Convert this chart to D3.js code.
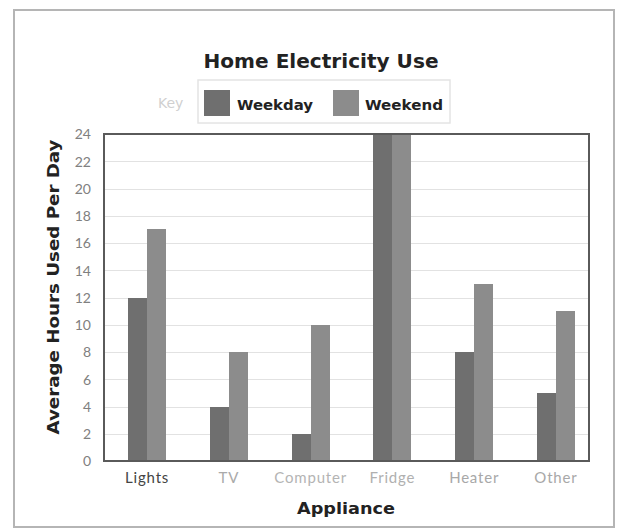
<!DOCTYPE html>
<html>
<head>
<meta charset="utf-8">
<script src="https://cdn.jsdelivr.net/npm/d3@7"></script>
<style>
  html, body { margin: 0; padding: 0; background: #fff; }
  svg { display: block; }
</style>
</head>
<body>
<svg id="chart" width="623" height="529"></svg>
<script>
const categories = ["Lights", "TV", "Computer", "Fridge", "Heater", "Other"];
const seriesNames = ["Weekday", "Weekend"];
const weekday = [12, 4, 2, 24, 8, 5];
const weekend = [17, 8, 10, 24, 13, 11];
const yTicks = [0, 2, 4, 6, 8, 10, 12, 14, 16, 18, 20, 22, 24];
const colors = ["#6f6f6f", "#8c8c8c"];
const labelColors = ["#444", "#aaa", "#b4b4b4", "#b0b0b0", "#a8a8a8", "#a8a8a8"];

const svg = d3.select("#chart");

// outer frame
svg.append("rect").attr("x", 14).attr("y", 10).attr("width", 600).attr("height", 517)
  .attr("fill", "#fff").attr("stroke", "#b5b5b5").attr("stroke-width", 2);

const plot = { left: 104, right: 589, top: 134, bottom: 461 };

const y = d3.scaleLinear().domain([0, 24]).range([plot.bottom, plot.top]);
const x0 = d3.scaleBand().domain(categories).range([106, 597]).paddingInner(0.535).paddingOuter(0.27);
const x1 = d3.scaleBand().domain(seriesNames).range([0, x0.bandwidth()]);

// gridlines
svg.append("g").selectAll("line").data(yTicks.slice(1, -1)).join("line")
  .attr("x1", plot.left).attr("x2", plot.right)
  .attr("y1", d => Math.round(y(d)) + 0.5).attr("y2", d => Math.round(y(d)) + 0.5)
  .attr("stroke", "#e2e2e2").attr("stroke-width", 1);

// bars
const data = categories.map((c, i) => ({ c, vals: [weekday[i], weekend[i]] }));
const groups = svg.append("g").selectAll("g").data(data).join("g");
groups.selectAll("rect").data(d => d.vals.map((v, j) => ({ v, s: seriesNames[j], j, c: d.c })))
  .join("rect")
  .attr("x", d => Math.round(x0(d.c) + x1(d.s)))
  .attr("width", d => Math.round(x0(d.c) + x1(d.s) + x1.bandwidth()) - Math.round(x0(d.c) + x1(d.s)))
  .attr("y", d => y(d.v))
  .attr("height", d => y(0) - y(d.v))
  .attr("shape-rendering", "crispEdges")
  .attr("fill", d => colors[d.j]);

// plot frame
svg.append("rect").attr("x", plot.left).attr("y", plot.top)
  .attr("width", plot.right - plot.left).attr("height", plot.bottom - plot.top)
  .attr("fill", "none").attr("stroke", "#5a5a5a").attr("stroke-width", 2);

// y axis labels
const yAxis = d3.axisLeft(y).tickValues(yTicks).tickSize(0).tickPadding(0);
const yg = svg.append("g").attr("transform", `translate(91,0)`).call(yAxis);
yg.select(".domain").remove();
yg.selectAll("text").attr("font-family", "Lato, 'Open Sans', sans-serif")
  .attr("font-size", 14).attr("fill", "#808080").attr("dy", "0.35em");

// x axis labels
const xAxis = d3.axisBottom(x0).tickSize(0).tickPadding(0);
const xg = svg.append("g").attr("transform", `translate(0,472)`).call(xAxis);
xg.select(".domain").remove();
xg.selectAll("text").attr("font-family", "Lato, 'Open Sans', sans-serif")
  .attr("font-size", 15).attr("letter-spacing", "0.8px")
  .attr("fill", (d, i) => labelColors[i]).attr("dy", "0.71em");

// title
svg.append("text").attr("x", 321).attr("y", 68).attr("text-anchor", "middle")
  .attr("font-family", "'DejaVu Sans', sans-serif").attr("font-weight", "bold")
  .attr("font-size", 19).attr("fill", "#222")
  .attr("textLength", 235).attr("lengthAdjust", "spacingAndGlyphs")
  .text("Home Electricity Use");

// legend
svg.append("text").attr("x", 158).attr("y", 108)
  .attr("font-family", "'DejaVu Sans', sans-serif").attr("font-size", 14).attr("fill", "#d0d0d0")
  .text("Key");
svg.append("rect").attr("x", 198).attr("y", 80).attr("width", 252).attr("height", 43)
  .attr("fill", "none").attr("stroke", "#e4e4e4").attr("stroke-width", 1.5);
const legendPos = [{ sx: 204, tx: 237, tw: 76 }, { sx: 333, tx: 365, tw: 78 }];
seriesNames.forEach((s, i) => {
  svg.append("rect").attr("x", legendPos[i].sx).attr("y", 90).attr("width", 26).attr("height", 26)
    .attr("fill", colors[i]);
  svg.append("text").attr("x", legendPos[i].tx).attr("y", 110)
    .attr("font-family", "'DejaVu Sans', sans-serif").attr("font-weight", "bold")
    .attr("font-size", 14).attr("fill", "#222")
    .attr("textLength", legendPos[i].tw).attr("lengthAdjust", "spacingAndGlyphs")
    .text(s);
});

// axis titles
svg.append("text").attr("x", 346).attr("y", 514).attr("text-anchor", "middle")
  .attr("font-family", "'DejaVu Sans', sans-serif").attr("font-weight", "bold")
  .attr("font-size", 16).attr("fill", "#222")
  .attr("textLength", 98).attr("lengthAdjust", "spacingAndGlyphs")
  .text("Appliance");
svg.append("text").attr("transform", "translate(59,287) rotate(-90)").attr("text-anchor", "middle")
  .attr("font-family", "'DejaVu Sans', sans-serif").attr("font-weight", "bold")
  .attr("font-size", 16).attr("fill", "#222")
  .attr("textLength", 295).attr("lengthAdjust", "spacingAndGlyphs")
  .text("Average Hours Used Per Day");
</script>
</body>
</html>
